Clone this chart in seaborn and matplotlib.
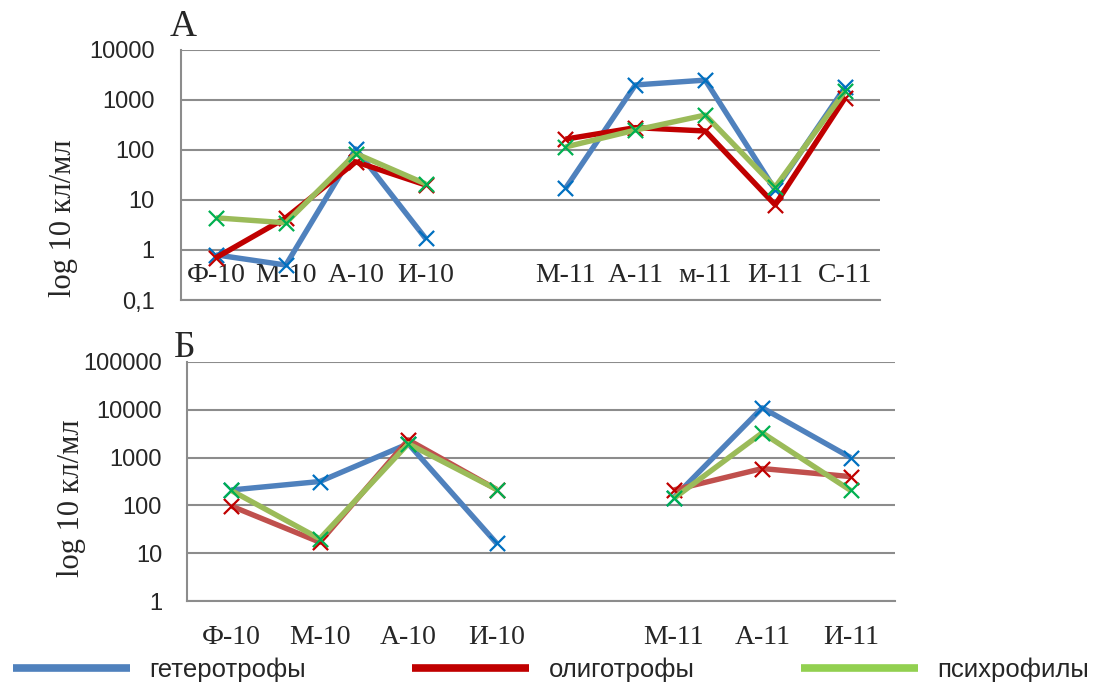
import numpy as np
import pandas as pd
import matplotlib
matplotlib.use("Agg")
import matplotlib.pyplot as plt
from matplotlib.lines import Line2D
import seaborn as sns

# categories (blank = gap between years)
cats_a = ['Ф-10', 'М-10', 'А-10', 'И-10', '', 'М-11', 'А-11', 'м-11', 'И-11', 'С-11']
cats_b = ['Ф-10', 'М-10', 'А-10', 'И-10', '', 'М-11', 'А-11', 'И-11']

# panel A values (кл/мл)
hetero_a = [0.8, 0.5, 105, 1.7, None, 17, 2000, 2500, 16, 1800]
oligo_a = [0.7, 4.4, 58, 20, None, 165, 280, 240, 8, 1100]
psychro_a = [4.4, 3.5, 85, 21, None, 115, 250, 500, 18, 1500]

# panel B values
hetero_b = [210, 316, 1950, 16, None, 145, 11000, 1000]
oligo_b = [97, 17, 2350, 215, None, 210, 590, 400]
psychro_b = [205, 20, 1950, 215, None, 140, 3300, 205]

names = ['гетеротрофы', 'олиготрофы', 'психрофилы']

yt_a = [0.1, 1, 10, 100, 1000, 10000]
yl_a = ['0,1', '1', '10', '100', '1000', '10000']
yt_b = [1, 10, 100, 1000, 10000, 100000]
yl_b = ['1', '10', '100', '1000', '10000', '100000']

line_cols_a = ['#4F81BD', '#C00000', '#9BBB59']
line_cols_b = ['#4F81BD', '#C0504D', '#9BBB59']
mark_cols = ['#0070C0', '#C00000', '#00B050']
leg_cols = ['#4F81BD', '#C00000', '#92D050']


def to_long(cats, series):
    rows = []
    for name, vals in zip(names, series):
        for i, v in enumerate(vals):
            if v is None:
                continue
            seg = 0 if i < cats.index('') else 1
            rows.append({'pos': i, 'val': v, 'group': name, 'seg': seg})
    return pd.DataFrame(rows)


def draw_panel(ax, cats, series, line_cols, yt, yl):
    df = to_long(cats, series)
    for k, name in enumerate(names):
        sub = df[df['group'] == name]
        sns.lineplot(data=sub, x='pos', y='val', units='seg', estimator=None,
                     color=line_cols[k], linewidth=3.9, ax=ax, zorder=2 + k,
                     solid_capstyle='butt')
        sns.scatterplot(data=sub, x='pos', y='val', marker='x', color=mark_cols[k],
                        s=120, linewidth=1.6, ax=ax, zorder=2.5 + k, legend=False)
    ax.set_yscale('log')
    ax.set_ylim(yt[0], yt[-1])
    ax.set_xlim(-0.5, len(cats) - 0.5)
    ax.set_yticks(yt, yl)
    ax.yaxis.set_minor_locator(matplotlib.ticker.NullLocator())
    ax.set_xticks(range(len(cats)), cats)
    ax.set_xlabel('')
    ax.set_ylabel('')
    ax.grid(axis='y', color='#8C8C8C', linewidth=1.5)
    ax.set_axisbelow(True)
    for s in ['top', 'right']:
        ax.spines[s].set_visible(False)
    for s in ['left', 'bottom']:
        ax.spines[s].set_color('#8C8C8C')
        ax.spines[s].set_linewidth(1.5)
    ax.tick_params(axis='both', length=0)
    for t in ax.get_yticklabels():
        t.set_fontfamily('Liberation Sans')
        t.set_fontsize(17)
    for t in ax.get_xticklabels():
        t.set_fontfamily('Liberation Serif')
        t.set_fontsize(20)


sns.set_style('white')
plt.rcParams['font.family'] = ['Liberation Serif', 'DejaVu Serif']

fig = plt.figure(figsize=(10.96, 6.87), dpi=100)
ax_a = fig.add_axes([181 / 1096, 1 - 300 / 687, 699 / 1096, 250 / 687])
ax_b = fig.add_axes([187 / 1096, 1 - 601 / 687, 708 / 1096, 239 / 687])

draw_panel(ax_a, cats_a, [hetero_a, oligo_a, psychro_a], line_cols_a, yt_a, yl_a)
draw_panel(ax_b, cats_b, [hetero_b, oligo_b, psychro_b], line_cols_b, yt_b, yl_b)

ax_a.tick_params(axis='y', pad=19)
ax_a.tick_params(axis='x', pad=-27)
ax_b.tick_params(axis='y', pad=18)
ax_b.tick_params(axis='x', pad=17)

fig.text(63 / 1096, 1 - 218 / 687, 'log 10 кл/мл', rotation=90, ha='center', va='center',
         fontsize=22, family='Liberation Serif')
fig.text(72 / 1096, 1 - 498 / 687, 'log 10 кл/мл', rotation=90, ha='center', va='center',
         fontsize=22, family='Liberation Serif')
fig.text(183 / 1096, 1 - 27 / 687, 'А', ha='center', va='center', fontsize=27,
         family='Liberation Serif')
fig.text(185 / 1096, 1 - 348 / 687, 'Б', ha='center', va='center', fontsize=27,
         family='Liberation Serif')

handles = [Line2D([0], [0], color=c, linewidth=5.5, solid_capstyle='butt') for c in leg_cols]
fig.legend(handles, names, loc='center left', bbox_to_anchor=(13 / 1096, 17 / 687),
           ncol=3, frameon=False, borderpad=0, borderaxespad=0,
           handlelength=4.55, handletextpad=0.75, columnspacing=4.15,
           prop={'family': 'Liberation Sans', 'size': 18.5})

fig.savefig('out.png', dpi=100)
